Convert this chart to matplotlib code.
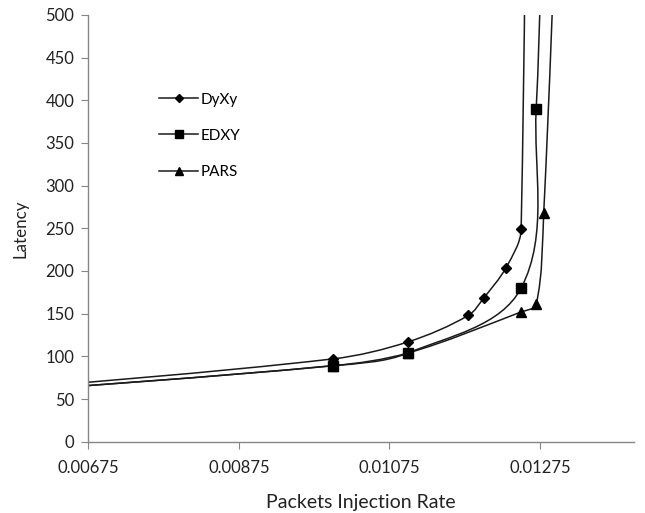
import numpy as np
import matplotlib
matplotlib.use("Agg")
import matplotlib.pyplot as plt
from matplotlib.path import Path
from matplotlib.patches import PathPatch
from matplotlib.lines import Line2D

plt.rcParams['font.family'] = ['Lato', 'DejaVu Sans']

# ---------- data ----------
dyxy_x = [0.0050, 0.0100, 0.0110, 0.0118, 0.0120, 0.0123, 0.0125, 0.0126]
dyxy_y = [56, 97, 117, 148, 168, 204, 249, 1500]

edxy_x = [0.0050, 0.0100, 0.0110, 0.0125, 0.0127, 0.0128]
edxy_y = [54, 89, 104, 180, 390, 700]

pars_x = [0.0050, 0.0100, 0.0110, 0.0125, 0.0127, 0.0128, 0.0130]
pars_y = [54, 89, 104, 152, 161, 268, 700]

series = [
    ("DyXy", dyxy_x, dyxy_y, "D", 5.2),
    ("EDXY", edxy_x, edxy_y, "s", 6.8),
    ("PARS", pars_x, pars_y, "^", 7.5),
]

x_ticks = [0.00675, 0.00875, 0.01075, 0.01275]
y_ticks = list(range(0, 501, 50))

XLIM = (0.00675, 0.0140)
YLIM = (0, 500)


def smooth_path(xs, ys, sx, sy):
    """Smoothed line through the points: cubic Bezier pieces, tangent from the
    neighbours, handle length a third of the segment (worked out in pixels)."""
    p = np.column_stack([np.asarray(xs) * sx, np.asarray(ys) * sy])
    n = len(p)
    tang = np.zeros_like(p)
    for i in range(n):
        a = p[max(i - 1, 0)]
        b = p[min(i + 1, n - 1)]
        d = b - a
        tang[i] = d / np.hypot(*d)
    verts = [p[0]]
    codes = [Path.MOVETO]
    for i in range(n - 1):
        L = np.hypot(*(p[i + 1] - p[i])) / 3.0
        verts += [p[i] + tang[i] * L, p[i + 1] - tang[i + 1] * L, p[i + 1]]
        codes += [Path.CURVE4] * 3
    v = np.array(verts)
    v[:, 0] /= sx
    v[:, 1] /= sy
    return Path(v, codes)


fig = plt.figure(figsize=(6.45, 5.13), dpi=100)
ax = fig.add_axes([0.137, 0.139, 0.846, 0.832])
ax.set_xlim(*XLIM)
ax.set_ylim(*YLIM)

w_px = 0.846 * 645
h_px = 0.832 * 513
sx = w_px / (XLIM[1] - XLIM[0])
sy = h_px / (YLIM[1] - YLIM[0])

line_col = "#1a1a1a"
for name, xs, ys, mk, ms in series:
    patch = PathPatch(smooth_path(xs, ys, sx, sy), fill=False, edgecolor=line_col, lw=1.1)
    ax.add_patch(patch)
    ax.plot(xs, ys, linestyle="none", marker=mk, ms=ms, color="black")

ax.set_xticks(x_ticks)
ax.set_xticklabels([f"{v:.5f}" for v in x_ticks])
ax.set_yticks(y_ticks)

for s in ["top", "right"]:
    ax.spines[s].set_visible(False)
for s in ["left", "bottom"]:
    ax.spines[s].set_color("#868686")
    ax.spines[s].set_linewidth(1.0)

ax.tick_params(axis="both", direction="out", color="#868686", length=5,
               labelsize=12, labelcolor="#222222")
ax.tick_params(axis="x", pad=8)
ax.tick_params(axis="y", pad=5)

ax.set_xlabel("Packets Injection Rate", fontsize=14, color="#222222", labelpad=13)
ax.set_ylabel("Latency", fontsize=12.2, color="#222222", labelpad=12)

handles = [Line2D([], [], color=line_col, lw=1.1, marker=mk, ms=ms * 0.85, mfc="black", mec="black")
           for _, _, _, mk, ms in series]
ax.legend(handles, [s[0] for s in series], loc="upper left",
          bbox_to_anchor=(0.105, 0.85), frameon=False, fontsize=11,
          handlelength=2.5, handletextpad=0.2, labelspacing=1.45)

fig.savefig("out.png", dpi=100)
